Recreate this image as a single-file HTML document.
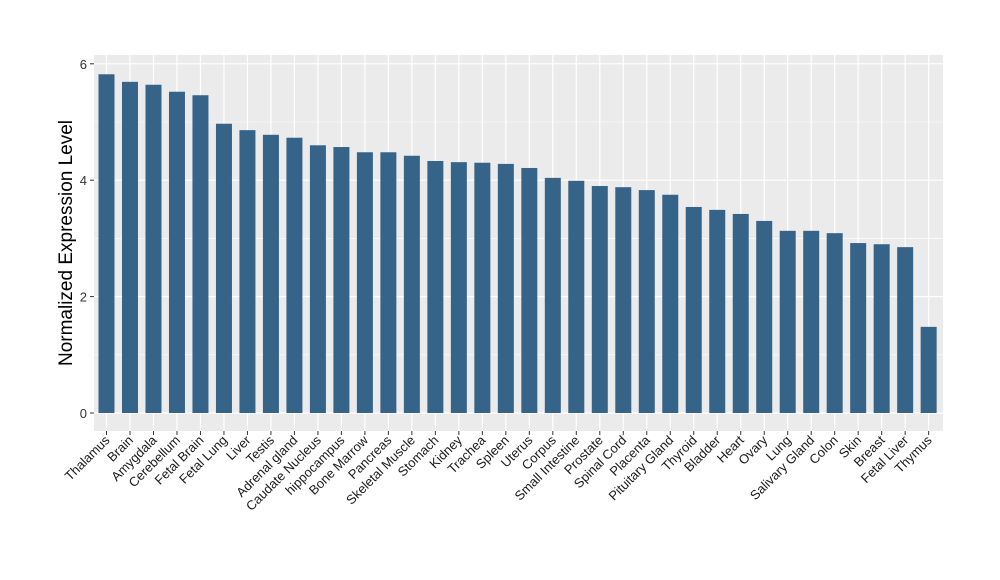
<!DOCTYPE html>
<html><head><meta charset="utf-8"><style>
body{margin:0;background:#fff;}
svg{display:block;font-family:"Liberation Sans",sans-serif;}
</style></head><body>
<svg id="chart" width="1000" height="580">
<rect x="94" y="55" width="849" height="376" fill="#ebebeb"/>
<g id="grid"></g><g id="bars"></g><g id="yaxis"></g><g id="xaxis"></g>
<text x="0" y="0" transform="translate(72,243) rotate(-90)" text-anchor="middle" font-size="19" fill="#000">Normalized Expression Level</text>
</svg>
<script>
const categories=["Thalamus","Brain","Amygdala","Cerebellum","Fetal Brain","Fetal Lung","Liver","Testis","Adrenal gland","Caudate Nucleus","hippocampus","Bone Marrow","Pancreas","Skeletal Muscle","Stomach","Kidney","Trachea","Spleen","Uterus","Corpus","Small Intestine","Prostate","Spinal Cord","Placenta","Pituitary Gland","Thyroid","Bladder","Heart","Ovary","Lung","Salivary Gland","Colon","Skin","Breast","Fetal Liver","Thymus"];
const values=[5.82,5.69,5.64,5.52,5.46,4.97,4.86,4.78,4.73,4.60,4.57,4.48,4.48,4.42,4.33,4.31,4.30,4.28,4.21,4.04,3.99,3.90,3.88,3.83,3.75,3.54,3.49,3.42,3.30,3.13,3.13,3.09,2.92,2.90,2.85,1.48];
const yTicks=[0,2,4,6];
const NS="http://www.w3.org/2000/svg";
function y(v){return 413-v*58.2;}
function x(i){return 106.5+i*23.49;}
function mk(t,a,p){const e=document.createElementNS(NS,t);for(const k in a)e.setAttribute(k,a[k]);p.appendChild(e);return e;}
const grid=document.getElementById('grid'),bars=document.getElementById('bars'),ya=document.getElementById('yaxis'),xa=document.getElementById('xaxis');
for(let k=0;k<yTicks.length;k++){
 const v=yTicks[k];
 if(k<yTicks.length-1){const m=mk('line',{x1:94,x2:943,y1:y(v+1),y2:y(v+1),stroke:'#fff','stroke-width':0.6},grid);
 
 }
 const g=mk('line',{x1:94,x2:943,y1:y(v),y2:y(v),stroke:'#fff','stroke-width':1.2},grid);
 
 
 mk('line',{x1:90,x2:94,y1:y(v),y2:y(v),stroke:'#333'},ya);
 const t=mk('text',{x:87,y:y(v)+5,'text-anchor':'end','font-size':13,fill:'#333'},ya);
 t.textContent=v;
 
 
}
categories.forEach((c,i)=>{
 const g=mk('line',{x1:x(i),x2:x(i),y1:55,y2:431,stroke:'#fff','stroke-width':1.2},grid);
 
 
 const b=mk('rect',{x:x(i)-8,y:y(values[i]),width:16,height:413-y(values[i]),fill:'#366489'},bars);
 
 
 mk('line',{x1:x(i),x2:x(i),y1:431,y2:435,stroke:'#333'},xa);
 const t=mk('text',{transform:`translate(${x(i)+4},${441}) rotate(-45)`,'text-anchor':'end','font-size':13,fill:'#1a1a1a'},xa);
 t.textContent=c;
 
 
});
</script>
</body></html>
